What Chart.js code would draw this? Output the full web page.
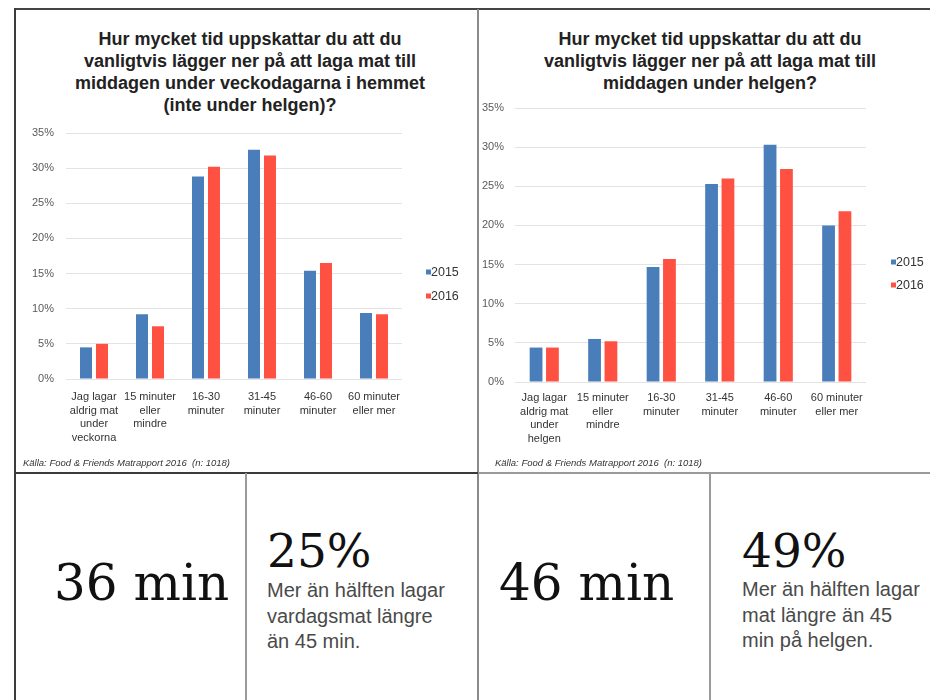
<!DOCTYPE html>
<html lang="sv">
<head>
<meta charset="utf-8">
<title>Matlagningstid – vardag och helg</title>
<script src="https://cdn.jsdelivr.net/npm/chart.js@4.4.1/dist/chart.umd.min.js"></script>
<style>
  html, body { margin: 0; padding: 0; width: 930px; height: 700px; overflow: hidden; background: #fff; }
  body { position: relative; font-family: "Liberation Sans", Arial, sans-serif; }
  canvas { position: absolute; }
  .line { position: absolute; z-index: 5; }
  .heading { position: absolute; width: 420px; text-align: center; font-weight: bold; font-size: 18px; line-height: 22px; color: #222; white-space: nowrap; }
  .source { position: absolute; font-size: 9.5px; font-style: italic; color: #333; white-space: nowrap; }
  .big { position: absolute; font-family: "DejaVu Serif", serif; color: #111; white-space: nowrap; line-height: 1; }
  .note { position: absolute; font-size: 20px; line-height: 25.5px; color: #4a4a4a; white-space: nowrap; }
</style>
</head>
<body>

<div class="heading" id="weekdayHeading" style="left:40px; top:28px;"></div>
<div class="heading" id="weekendHeading" style="left:500px; top:28px;"></div>

<canvas id="weekday" width="468" height="462" style="left:16px; top:10px; width:468px; height:462px;"></canvas>
<canvas id="weekend" width="464" height="462" style="left:478px; top:10px; width:464px; height:462px;"></canvas>

<div class="source" style="left:23px; top:457px;">Källa: Food &amp; Friends Matrapport 2016&nbsp; (n: 1018)</div>
<div class="source" style="left:495px; top:457px;">Källa: Food &amp; Friends Matrapport 2016&nbsp; (n: 1018)</div>

<!-- panel frame -->
<div class="line" style="left:14px; top:8px; width:916px; height:2px; background:#444;"></div>
<div class="line" style="left:14px; top:8px; width:2px; height:692px; background:#3c3c3c;"></div>
<div class="line" style="left:477px; top:9px; width:2px; height:691px; background:#8a8a8a;"></div>
<div class="line" style="left:15px; top:472px; width:463px; height:2px; background:#3a3a3a;"></div>
<div class="line" style="left:478px; top:472px; width:452px; height:2px; background:#9a9a9a;"></div>
<div class="line" style="left:245px; top:473px; width:2px; height:227px; background:#9a9a9a;"></div>
<div class="line" style="left:709px; top:473px; width:2px; height:227px; background:#9a9a9a;"></div>

<!-- key figures -->
<div class="big" style="left:54px; top:558px; font-size:50px;">36 min</div>
<div class="big" style="left:267px; top:527px; font-size:47px;">25%</div>
<div class="note" style="left:267px; top:578px;">Mer än hälften lagar<br>vardagsmat längre<br>än 45 min.</div>
<div class="big" style="left:499px; top:558px; font-size:50px;">46 min</div>
<div class="big" style="left:742px; top:527px; font-size:47px;">49%</div>
<div class="note" style="left:742px; top:577px;">Mer än hälften lagar<br>mat längre än 45<br>min på helgen.</div>

<script>
// Survey answers: share of respondents (%) per time bracket
const weekdayCategories = [
  ["Jag lagar", "aldrig mat", "under", "veckorna"],
  ["15 minuter", "eller", "mindre"],
  ["16-30", "minuter"],
  ["31-45", "minuter"],
  ["46-60", "minuter"],
  ["60 minuter", "eller mer"]
];
const weekendCategories = [
  ["Jag lagar", "aldrig mat", "under", "helgen"],
  ["15 minuter", "eller", "mindre"],
  ["16-30", "minuter"],
  ["31-45", "minuter"],
  ["46-60", "minuter"],
  ["60 minuter", "eller mer"]
];
const seriesLabels = ["2015", "2016"];

const weekday2015 = [4.5, 9.2, 28.8, 32.6, 15.4, 9.4];
const weekday2016 = [5.0, 7.5, 30.2, 31.8, 16.5, 9.2];
const weekend2015 = [4.4, 5.5, 14.7, 25.3, 30.3, 20.0];
const weekend2016 = [4.4, 5.2, 15.7, 26.0, 27.2, 21.8];

const yTicks = [0, 5, 10, 15, 20, 25, 30, 35];

const weekdayTitle = [
  "Hur mycket tid uppskattar du att du",
  "vanligtvis lägger ner på att laga mat till",
  "middagen under veckodagarna i hemmet",
  "(inte under helgen)?"
];
const weekendTitle = [
  "Hur mycket tid uppskattar du att du",
  "vanligtvis lägger ner på att laga mat till",
  "middagen under helgen?"
];

const BLUE = "#4a7ebb";
const RED = "#fe5142";
const SANS = "'Liberation Sans', Arial, Helvetica, sans-serif";

function setHeading(id, lines) {
  const el = document.getElementById(id);
  lines.forEach((t, i) => {
    if (i) el.appendChild(document.createElement("br"));
    el.appendChild(document.createTextNode(t));
  });
}
setHeading("weekdayHeading", weekdayTitle);
setHeading("weekendHeading", weekendTitle);

// Small square-marker legend drawn beside the plot area
const sideLegend = {
  id: "sideLegend",
  afterDraw(chart, args, opts) {
    const ctx = chart.ctx;
    ctx.save();
    ctx.font = "12.5px " + SANS;
    ctx.textBaseline = "middle";
    ctx.textAlign = "left";
    chart.data.datasets.forEach((ds, i) => {
      const y = opts.y + i * opts.gap;
      ctx.fillStyle = ds.backgroundColor;
      ctx.fillRect(opts.x, y - 2.5, 5, 5);
      ctx.fillStyle = "#333";
      ctx.fillText(ds.label, opts.x + 5, y + 0.5);
    });
    ctx.restore();
  }
};

function buildChart(id, categories, s2015, s2016, geo) {
  return new Chart(document.getElementById(id), {
    type: "bar",
    data: {
      labels: categories,
      datasets: [
        { label: seriesLabels[0], data: s2015, backgroundColor: BLUE },
        { label: seriesLabels[1], data: s2016, backgroundColor: RED }
      ]
    },
    plugins: [sideLegend],
    options: {
      responsive: false,
      animation: false,
      events: [],
      layout: { padding: { left: 0, right: geo.padRight, top: geo.padTop, bottom: geo.padBottom } },
      datasets: { bar: { categoryPercentage: geo.cat, barPercentage: geo.bar } },
      plugins: {
        legend: { display: false },
        tooltip: { enabled: false },
        title: { display: false },
        sideLegend: { x: geo.legX, y: geo.legY, gap: geo.legGap }
      },
      scales: {
        x: {
          grid: { display: false },
          border: { display: false },
          ticks: {
            color: "#333",
            font: { family: SANS, size: 11, lineHeight: 1.25 },
            padding: geo.xPad,
            maxRotation: 0,
            autoSkip: false
          },
          afterFit(scale) { scale.height = geo.xHeight; }
        },
        y: {
          min: 0,
          max: 35,
          afterBuildTicks(scale) { scale.ticks = yTicks.map(v => ({ value: v })); },
          grid: { color: "#e3e3e3", lineWidth: 1, drawTicks: false },
          border: { display: false },
          ticks: {
            color: "#5a5a5a",
            font: { family: SANS, size: 11 },
            padding: geo.yPad,
            callback: v => v + "%"
          },
          afterFit(scale) { scale.width = geo.yWidth; }
        }
      }
    }
  });
}

buildChart("weekday", weekdayCategories, weekday2015, weekday2016, {
  padRight: 82, padBottom: 13, padTop: 123,
  xHeight: 80, xPad: 3, yWidth: 50, yPad: 12,
  cat: 0.571, bar: 0.75,
  legX: 410, legY: 262, legGap: 24
});

buildChart("weekend", weekendCategories, weekend2015, weekend2016, {
  padRight: 76, padBottom: 10, padTop: 98,
  xHeight: 80, xPad: 1, yWidth: 37, yPad: 11,
  cat: 0.56, bar: 0.78,
  legX: 413, legY: 252, legGap: 23
});
</script>
</body>
</html>
